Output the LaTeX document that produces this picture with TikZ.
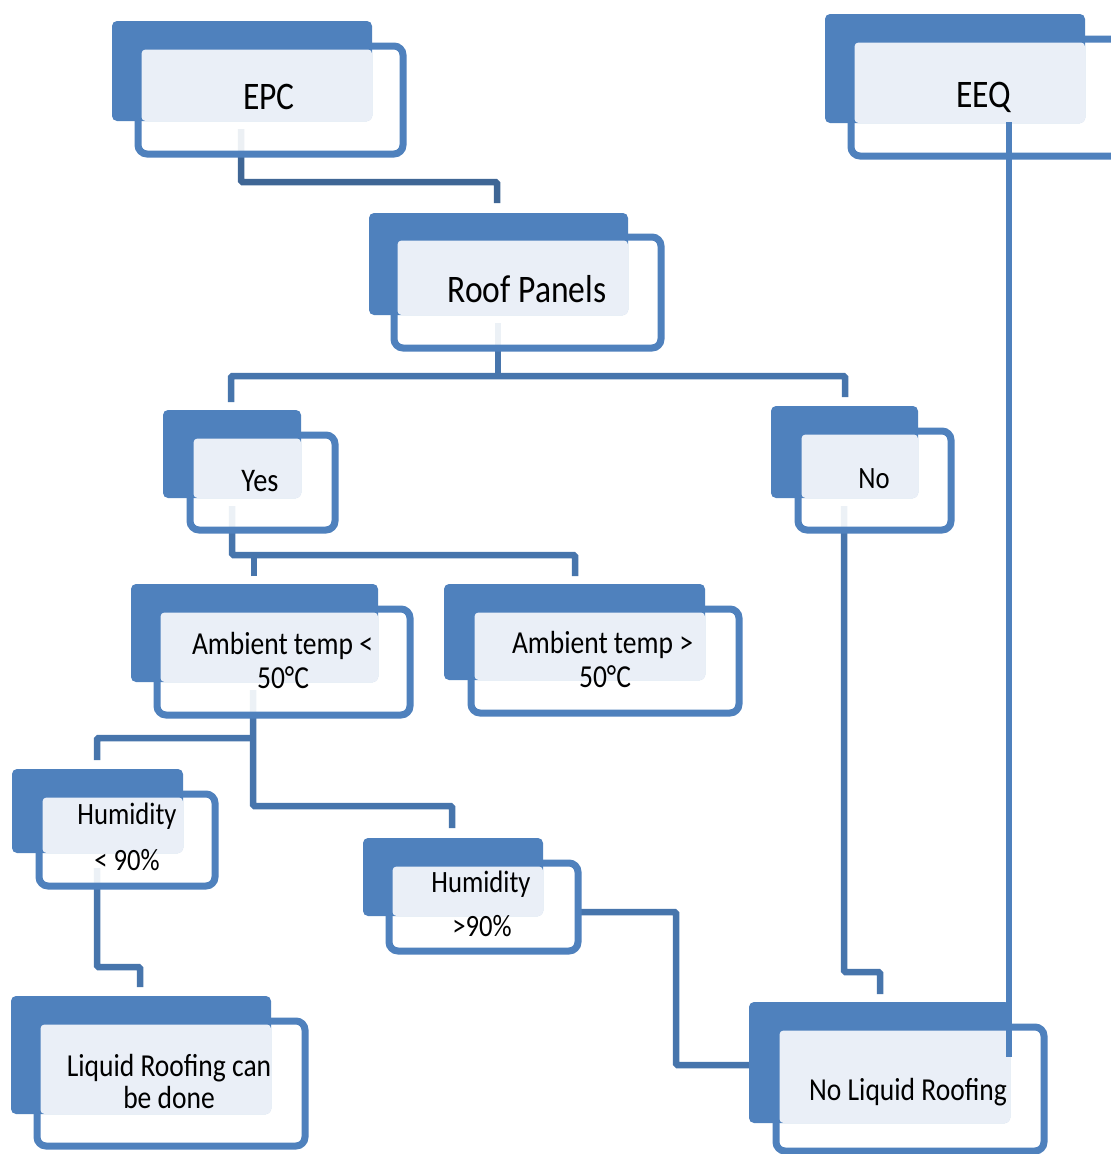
\documentclass[tikz,border=0pt]{standalone}
\usepackage{fontspec}
\setmainfont{Carlito}[FakeStretch=0.86]
\definecolor{boxblue}{HTML}{4F81BD}
\definecolor{lightc}{HTML}{EAEFF7}
\definecolor{connc}{HTML}{4775AC}
\definecolor{connd}{HTML}{3F6695}
\tikzset{
  outl/.style={draw=boxblue,line width=7pt,fill=white,fill opacity=0.9,rounded corners=9pt},
  backbox/.style={fill=boxblue,rounded corners=5pt},
  lightbox/.style={fill=lightc,rounded corners=4pt},
  conn/.style={draw=connc,line width=6.5pt,rounded corners=1.5pt},
  txt/.style={anchor=base,inner sep=0pt,text=black},
  big/.style={txt,font=\fontsize{39}{40}\selectfont},
  mid/.style={txt,font=\fontsize{32}{33}\selectfont},
  sml/.style={txt,font=\fontsize{31}{32}\selectfont},
}
\newcommand\dbox[8]{%
  \draw[outl] (#5,#6) rectangle (#7,#8);
  \fill[backbox] (#1,#2) rectangle (#3,#4);
  \fill[lightbox] (#5+3.5,#6+3.5) rectangle (#3,#4);
}
\begin{document}
\begin{tikzpicture}[x=1pt,y=-1pt]
\useasboundingbox (0,0) rectangle (1111,1154);
\clip (0,0) rectangle (1111,1154);
\fill[white] (0,0) rectangle (1111,1154);

% connector end points
\coordinate (epcS) at (241,129);
\coordinate (epcJ) at (241,182);
\coordinate (roofT) at (497,203);
\coordinate (roofS) at (498,323);
\coordinate (roofJ) at (498,376);
\coordinate (yesT) at (231,402);
\coordinate (noT) at (845,397);
\coordinate (yesS) at (232,506);
\coordinate (yesJ) at (232,555);
\coordinate (ltT) at (254,576);
\coordinate (gtT) at (575,576);
\coordinate (ltS) at (253,690);
\coordinate (ltJ1) at (253,738);
\coordinate (ltJ2) at (253,806);
\coordinate (hltT) at (97,760);
\coordinate (hgtT) at (452,828);
\coordinate (hltS) at (97,868);
\coordinate (liqJ) at (140,967);
\coordinate (liqT) at (140,987);
\coordinate (hgtE) at (578,912);
\coordinate (hgtJ) at (676,912);
\coordinate (nlW) at (772,1065);
\coordinate (noS) at (844,506);
\coordinate (nlJ) at (880,972);
\coordinate (nlT) at (880,994);
\coordinate (eeqS) at (1009,122);
\coordinate (nlE) at (1009,1057);

% connectors (under boxes)
\draw[conn,draw=connd] (epcS) |- (roofT |- epcJ) -- (roofT);
\draw[conn] (roofS) -- (roofJ);
\draw[conn] (yesT) |- (roofJ) -| (noT);
\draw[conn] (yesS) -- (yesJ) -| (gtT);
\draw[conn] (ltT) -- (ltT |- yesJ);
\draw[conn] (ltS) -- (ltJ2) -| (hgtT);
\draw[conn] (hltT) |- (ltJ1);
\draw[conn] (hltS) |- (liqJ) -- (liqT);
\draw[conn] (hgtE) -- (hgtJ) |- (nlW);
\draw[conn] (noS) |- (nlJ) -- (nlT);

% boxes
\dbox{112}{21}{372}{121}{138}{46}{403}{154}
\dbox{825}{14}{1085}{123}{851}{39}{1125}{156}
\dbox{369}{213}{628}{315}{394}{237}{661}{348}
\dbox{163}{410}{301}{498}{190}{435}{335}{530}
\dbox{771}{406}{918}{498}{798}{431}{951}{530}
\dbox{131}{584}{378}{682}{157}{609}{410}{715}
\dbox{444}{584}{705}{680}{471}{609}{739}{713}
\dbox{12}{769}{183}{853}{39}{794}{215}{886}
\dbox{363}{838}{543}{916}{389}{863}{578}{951}
\dbox{11}{996}{271}{1114}{37}{1021}{305}{1146}
\dbox{749}{1002}{1010}{1123}{776}{1027}{1044}{1151}

% texts
\node[big] (epc) at (269,109) {EPC};
\node[big] (eeq) at (984,107) {EEQ};
\node[big] (roof) at (527,302) {Roof Panels};
\node[txt,font=\fontsize{33}{34}\selectfont] (yes) at (260,491) {Yes};
\node[sml] (no) at (874,488) {No};
\node[mid] (lt1) at (282.5,654) {Ambient temp <};
\node[mid] (lt2) at (283,688) {50°C};
\node[mid] (gt1) at (602.5,653) {Ambient temp >};
\node[mid] (gt2) at (605,687) {50°C};
\node[sml] (hlt1) at (127,824) {Humidity};
\node[sml] (hlt2) at (127,870) {< 90\%};
\node[sml] (hgt1) at (481,892) {Humidity};
\node[sml] (hgt2) at (482,936) {>90\%};
\node[mid] (liq1) at (169,1076) {Liquid Roofing can};
\node[mid] (liq2) at (169,1108) {be done};
\node[mid] (nl) at (908,1100) {No Liquid Roofing};

% EEQ connector on top
\draw[conn,draw=boxblue,rounded corners=0pt] (eeqS) -- (nlE);
\end{tikzpicture}
\end{document}
